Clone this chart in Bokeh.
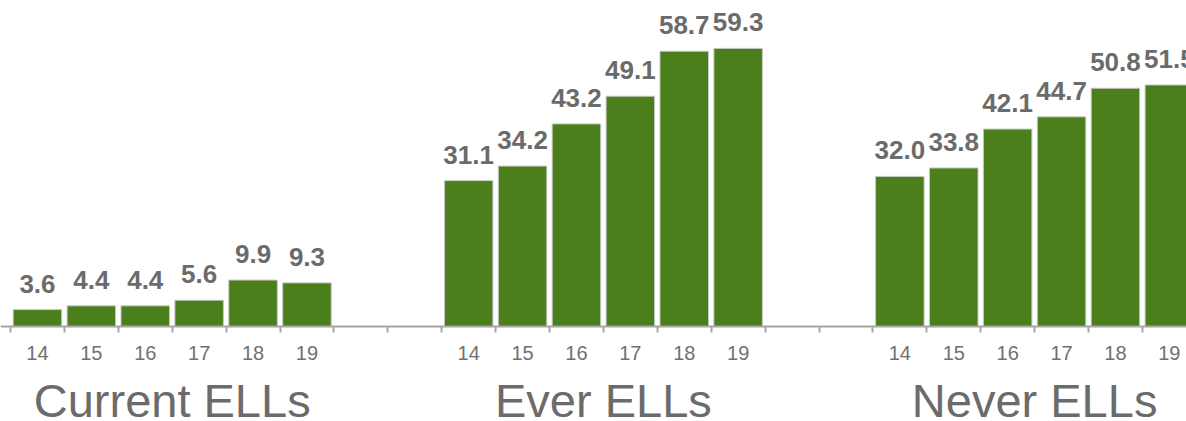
from bokeh.plotting import figure
from bokeh.models import FixedTicker, ColumnDataSource, LinearAxis, Range1d
from bokeh.core.properties import value
from bokeh.embed import file_html
from bokeh.resources import INLINE

years = ["14", "15", "16", "17", "18", "19"]
groups = ["Current ELLs", "Ever ELLs", "Never ELLs"]
current = [3.6, 4.4, 4.4, 5.6, 9.9, 9.3]
ever = [31.1, 34.2, 43.2, 49.1, 58.7, 59.3]
never = [32.0, 33.8, 42.1, 44.7, 50.8, 51.5]
series = [current, ever, never]

GAP = 2
n = len(years)
stride = n + GAP

xs, tops, labels = [], [], []
centers, overrides = [], {}
for g, vals in enumerate(series):
    for i, v in enumerate(vals):
        c = g * stride + i + 0.5
        xs.append(c)
        tops.append(v)
        labels.append(f"{v:.1f}")
        centers.append(c)
        overrides[c] = years[i]
boundaries = list(range(0, len(series) * stride - GAP + 1))

W, H = 1186, 421
PX_PER_UNIT = 4.69
BASE = 326
SLOT_PX = 53.9
LEFT = 10
x_end = (W - LEFT) / SLOT_PX

p = figure(width=W, height=H, output_backend="svg", toolbar_location=None,
           x_range=Range1d(-LEFT / SLOT_PX, x_end),
           y_range=Range1d(-(H - BASE) / PX_PER_UNIT, BASE / PX_PER_UNIT),
           x_axis_location=None, y_axis_location=None, min_border=0,
           outline_line_color=None, background_fill_color="white")
p.grid.visible = False

ax = LinearAxis(ticker=FixedTicker(ticks=centers, minor_ticks=boundaries), fixed_location=0)
ax.major_label_overrides = overrides
ax.axis_line_color = "#a6a6a6"
ax.axis_line_width = 2
ax.major_tick_out = 0
ax.major_tick_in = 0
ax.minor_tick_out = 6
ax.minor_tick_in = 0
ax.minor_tick_line_color = "#a6a6a6"
ax.minor_tick_line_width = 2
ax.major_label_standoff = 13
ax.major_label_text_font = "Liberation Sans"
ax.major_label_text_font_size = "20px"
ax.major_label_text_color = "#707070"
p.add_layout(ax, "below")

src = ColumnDataSource(dict(x=xs, top=tops, label=labels))
p.vbar(x="x", top="top", bottom=0, width=0.9, source=src,
       fill_color="#4b7f1b", line_color="#c8c8c8", line_width=1)
p.text(x="x", y="top", text="label", source=src, text_align="center",
       text_baseline="alphabetic", y_offset=-26,
       text_font=value("Liberation Sans"), text_font_style="bold",
       text_font_size="26px", text_color="#6b6b6b")

gsrc = ColumnDataSource(dict(x=[g * stride + n / 2 for g in range(len(groups))],
                             y=[0] * len(groups), text=groups))
p.text(x="x", y="y", text="text", source=gsrc, text_align="center",
       text_baseline="alphabetic", y_offset=74,
       text_font=value("Liberation Sans"), text_font_size="47px",
       text_color="#6b6b6b")

open("out.html", "w").write(file_html(p, INLINE))
